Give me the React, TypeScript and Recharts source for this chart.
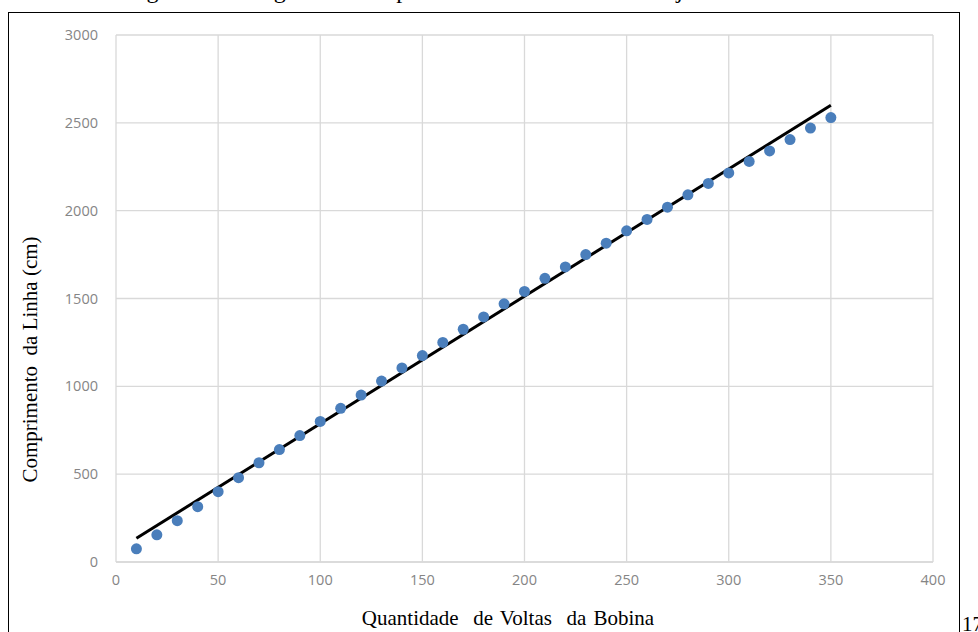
import React from 'react';
import { ComposedChart, Scatter, Line, XAxis, YAxis, CartesianGrid } from 'recharts';

const voltas = [10, 20, 30, 40, 50, 60, 70, 80, 90, 100, 110, 120, 130, 140, 150, 160, 170, 180, 190, 200, 210, 220, 230, 240, 250, 260, 270, 280, 290, 300, 310, 320, 330, 340, 350];
const comprimento = [75, 155, 235, 315, 400, 480, 565, 640, 720, 800, 875, 950, 1030, 1105, 1175, 1250, 1325, 1395, 1470, 1540, 1615, 1680, 1750, 1815, 1885, 1950, 2020, 2090, 2155, 2215, 2280, 2340, 2405, 2470, 2530];
const trendX = [10, 350];
const trendY = [135, 2600];
const xTicks = [0, 50, 100, 150, 200, 250, 300, 350, 400];
const yTicks = [0, 500, 1000, 1500, 2000, 2500, 3000];

const points = voltas.map((x, i) => ({ x, y: comprimento[i] }));
const trend = trendX.map((x, i) => ({ x, y: trendY[i] }));

const Dot = (props: any) => (
  <circle cx={props.cx} cy={props.cy} r={5.5} fill="#4a7ebb" />
);

const tickStyle = { fontFamily: 'Open Sans, Liberation Sans, sans-serif', fontSize: 14.5, fill: '#858585' };

export default function App() {
  return (
    <div style={{ position: 'absolute', left: 0, top: 0, width: 978, height: 632, overflow: 'hidden', background: '#fff', fontFamily: 'Liberation Serif, Times New Roman, serif' }}>
      <div style={{ position: 'absolute', left: -8, width: 978, top: -24, textAlign: 'center', fontSize: 24, lineHeight: '28px', color: '#000', whiteSpace: 'nowrap' }}>
        Figura 17 - Diagrama de dispersão dos dados e linha de ajuste do modelo.
      </div>
      <div style={{ position: 'absolute', left: 8, top: 12, width: 950, height: 700, border: '1px solid #000' }} />
      <div style={{ position: 'absolute', left: 0, top: 0 }}>
        <ComposedChart width={978} height={632} margin={{ top: 35, right: 45, bottom: 40, left: 56 }}>
          <CartesianGrid stroke="#d9d9d9" strokeWidth={1.3} />
          <XAxis
            type="number"
            dataKey="x"
            domain={[0, 400]}
            ticks={xTicks}
            axisLine={{ stroke: '#d9d9d9', strokeWidth: 1.3 }}
            tickLine={false}
            tickMargin={7}
            tick={tickStyle}
            height={30}
            allowDataOverflow
          />
          <YAxis
            type="number"
            dataKey="y"
            domain={[0, 3000]}
            ticks={yTicks}
            axisLine={false}
            tickLine={false}
            tickMargin={12}
            tick={tickStyle}
            width={60}
            allowDataOverflow
          />
          <Scatter data={points} dataKey="y" shape={Dot} isAnimationActive={false} />
          <Line data={trend} dataKey="y" type="linear" stroke="#000" strokeWidth={3} dot={false} activeDot={false} isAnimationActive={false} />
        </ComposedChart>
      </div>
      <div style={{ position: 'absolute', left: 9, top: 100, width: 42, height: 518, display: 'flex', alignItems: 'center', justifyContent: 'center' }}>
        <div style={{ transform: 'rotate(-90deg)', whiteSpace: 'pre', fontSize: 21, color: '#000' }}>
          Comprimento  da Linha (cm)
        </div>
      </div>
      <div style={{ position: 'absolute', left: 208, width: 600, top: 606, textAlign: 'center', whiteSpace: 'pre', fontSize: 21, wordSpacing: 2, color: '#000' }}>
        Quantidade  de Voltas  da Bobina
      </div>
      <div style={{ position: 'absolute', left: 962, top: 612, fontSize: 21, color: '#000', whiteSpace: 'nowrap' }}>
        17
      </div>
    </div>
  );
}
